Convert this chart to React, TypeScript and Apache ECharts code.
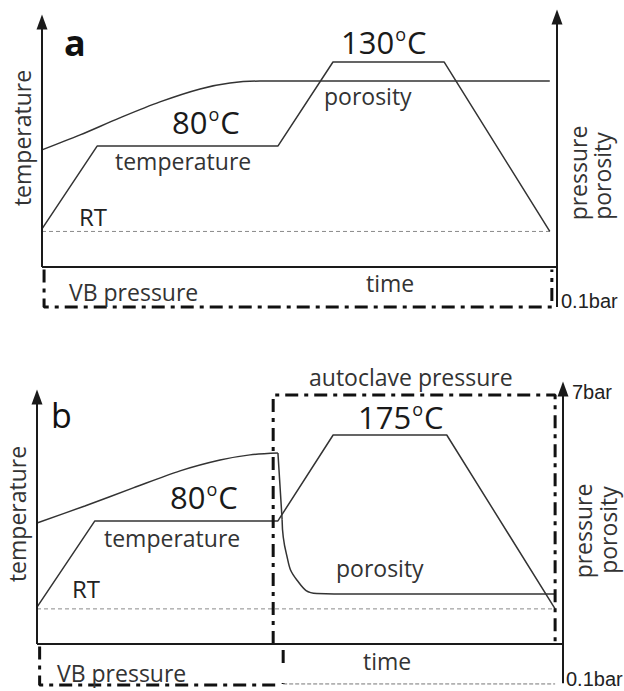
import React, { useEffect, useRef } from "react";
import * as echarts from "echarts";

// ---- shared scales ----
const TIME_MIN = 0;
const TIME_MAX = 100;
const LEVEL_MAX = 100;
const LEVEL_MIN_A = -20;
const LEVEL_MIN_B = -18;

// ---- panel a (vacuum bag only) ----
const rtA: [number, number][] = [[0, 14], [98.6, 14]];
const temperatureA: [number, number][] = [[0, 15], [10.7, 47.6], [45.8, 47.6], [56.5, 80.7], [78.1, 80.7], [98.6, 14]];
const porosityA: [number, number][] = [[0, 46.1], [7.4, 52], [15.1, 58.7], [22.9, 65], [30.7, 70.1], [36.5, 72.4], [42.3, 73.2], [98.6, 73.2]];
const vbPressureA: [number, number][] = [[0.4, -1], [0.4, -15.7], [99, -15.7], [99, -1]];
const axesA = { leftTop: 96.5, rightTop: 98.4, rightBottom: -15.7 };

// ---- panel b (vacuum bag + autoclave) ----
const rtB: [number, number][] = [[0, 13.6], [98.5, 13.6]];
const temperatureB: [number, number][] = [[0, 14.3], [11, 47.7], [45.8, 47.7], [56.3, 81], [77.9, 81], [98.5, 13.6]];
const porosityRiseB: [number, number][] = [[0, 46.9], [9.1, 53.5], [18.3, 60.5], [27.2, 67.1], [34.8, 71.3], [40.5, 73.3], [45.8, 74]];
const porosityDropB: [number, number][] = [[45.8, 74], [46.6, 48.1]];
const porosityDecayB: [number, number][] = [[46.6, 48.1], [47.4, 35], [49.4, 24.8], [53.2, 19.6], [60, 19.4], [98.5, 19.4]];
const autoclavePressureB: [number, number][] = [[44.9, 0], [44.9, 96.5], [98.5, 96.5], [98.5, 0]];
const autoclaveLowB: [number, number][] = [[46.8, -2.3], [46.8, -15.5]];
const autoclaveBaseB: [number, number][] = [[46.8, -15.5], [98.5, -15.5]];
const vbPressureB: [number, number][] = [[0.5, -1], [0.5, -15.9], [45.8, -15.9]];
const axesB = { leftTop: 95.7, rightTop: 98.8, rightBottom: -15.2 };

const FONT = "'Open Sans', 'Noto Sans', sans-serif";
const NARROW = "'Liberation Sans', Arial, sans-serif";
const INK = "#1a1a1a";
const GREY = "#333333";
const DASH_DOT = [13, 6, 4, 6];

function lineSeries(name: string, grid: number, data: [number, number][], lineStyle: any, smooth: number | boolean = false, extra: any = {}) {
  return {
    name,
    type: "line",
    xAxisIndex: grid,
    yAxisIndex: grid,
    data,
    smooth,
    showSymbol: false,
    symbol: "none",
    silent: true,
    clip: false,
    lineStyle,
    z: 3,
    ...extra,
  };
}

function axesMarkLine(ax: { leftTop: number; rightTop: number; rightBottom: number }) {
  const arrow = { symbol: "triangle", symbolSize: [11, 15] };
  return {
    silent: true,
    animation: false,
    symbol: ["none", "none"],
    label: { show: false },
    lineStyle: { type: "solid", width: 2, color: INK },
    emphasis: { disabled: true },
    data: [
      [{ coord: [TIME_MIN, 0], symbol: "none" }, { coord: [TIME_MIN, ax.leftTop], ...arrow }],
      [{ coord: [TIME_MIN, 0], symbol: "none" }, { coord: [TIME_MAX, 0], symbol: "none" }],
      [{ coord: [TIME_MAX, ax.rightBottom], symbol: "none" }, { coord: [TIME_MAX, ax.rightTop], ...arrow }],
    ],
  };
}

function txt(x: number, y: number, text: string, size: number, opts: any = {}) {
  return {
    type: "text",
    x,
    y,
    rotation: opts.rotation || 0,
    z: 10,
    style: {
      text,
      fill: opts.fill || GREY,
      fontSize: size,
      fontFamily: opts.family || FONT,
      fontWeight: opts.weight || "normal",
      align: opts.align || "left",
      verticalAlign: "middle",
    },
  };
}

// temperature plateau label with superscript "o"
function degree(x: number, y: number, value: string) {
  return {
    type: "text",
    x,
    y,
    z: 10,
    style: {
      text: `{d|${value}}{s|o}{d|C}`,
      align: "left",
      verticalAlign: "middle",
      rich: {
        d: { fontSize: 31, fontFamily: FONT, fill: INK },
        s: { fontSize: 18, fontFamily: FONT, fill: INK, padding: [0, 1, 16, 1] },
      },
    },
  };
}

export default function App() {
  const ref = useRef<HTMLDivElement>(null);
  useEffect(() => {
    if (!ref.current) return;
    const chart = echarts.init(ref.current, null, { renderer: "svg" });
    const thin = { color: GREY, width: 1.5, type: "solid" };
    const rtStyle = { color: "#8a8a8a", width: 1, type: [4, 3] };
    const dd = { color: "#111", width: 3, type: DASH_DOT };
    const ROT = Math.PI / 2;
    const option: any = {
      animation: false,
      backgroundColor: "#ffffff",
      grid: [
        { left: 42, width: 515, top: 13, height: 304.8 },
        { left: 37, width: 526, top: 386, height: 304.4 },
      ],
      xAxis: [
        { type: "value", gridIndex: 0, min: TIME_MIN, max: TIME_MAX, show: false },
        { type: "value", gridIndex: 1, min: TIME_MIN, max: TIME_MAX, show: false },
      ],
      yAxis: [
        { type: "value", gridIndex: 0, min: LEVEL_MIN_A, max: LEVEL_MAX, show: false },
        { type: "value", gridIndex: 1, min: LEVEL_MIN_B, max: LEVEL_MAX, show: false },
      ],
      series: [
        lineSeries("RT a", 0, rtA, rtStyle, false, { markLine: axesMarkLine(axesA) }),
        lineSeries("temperature a", 0, temperatureA, thin),
        lineSeries("porosity a", 0, porosityA, thin, 0.3),
        lineSeries("VB pressure a", 0, vbPressureA, dd),
        lineSeries("RT b", 1, rtB, rtStyle, false, { markLine: axesMarkLine(axesB) }),
        lineSeries("temperature b", 1, temperatureB, thin),
        lineSeries("porosity rise b", 1, porosityRiseB, thin, 0.3),
        lineSeries("porosity drop b", 1, porosityDropB, thin),
        lineSeries("porosity decay b", 1, porosityDecayB, thin, 0.5),
        lineSeries("autoclave pressure b", 1, autoclavePressureB, dd),
        lineSeries("autoclave low b", 1, autoclaveLowB, { color: "#111", width: 3, type: [13, 20] }),
        lineSeries("autoclave base b", 1, autoclaveBaseB, { color: "#777", width: 1, type: [4, 2] }),
        lineSeries("VB pressure b", 1, vbPressureB, dd),
      ],
      graphic: [
        // panel a
        txt(64, 42, "a", 36, { fill: "#111", weight: "bold" }),
        txt(22, 138, "temperature", 23, { rotation: ROT, align: "center" }),
        degree(172, 122, "80"),
        txt(115, 161, "temperature", 23),
        txt(79, 216, "RT", 24, { fill: "#222" }),
        degree(341, 42, "130"),
        txt(324, 96, "porosity", 23),
        txt(578, 173, "pressure", 23, { rotation: ROT, align: "center" }),
        txt(602, 176, "porosity", 23, { rotation: ROT, align: "center" }),
        txt(366, 283, "time", 23),
        txt(69, 292, "VB pressure", 23),
        txt(561, 301, "0.1bar", 20, { fill: "#222", family: NARROW }),
        // panel b
        txt(51, 415, "b", 34, { fill: "#111" }),
        txt(309, 377, "autoclave pressure", 23),
        txt(572, 392, "7bar", 20, { fill: "#222", family: NARROW }),
        degree(358, 417, "175"),
        degree(170, 497, "80"),
        txt(104, 538, "temperature", 23),
        txt(72, 588, "RT", 24, { fill: "#222" }),
        txt(336, 568, "porosity", 23),
        txt(17, 514, "temperature", 23, { rotation: ROT, align: "center" }),
        txt(583, 531, "pressure", 23, { rotation: ROT, align: "center" }),
        txt(608, 530, "porosity", 23, { rotation: ROT, align: "center" }),
        txt(363, 661, "time", 23),
        txt(57, 673, "VB pressure", 23),
        txt(566, 679, "0.1bar", 20, { fill: "#222", family: NARROW }),
      ],
    };
    chart.setOption(option);
    return () => chart.dispose();
  }, []);
  return <div ref={ref} style={{ position: "fixed", left: 0, top: 0, width: 624, height: 691, background: "#fff" }} />;
}
